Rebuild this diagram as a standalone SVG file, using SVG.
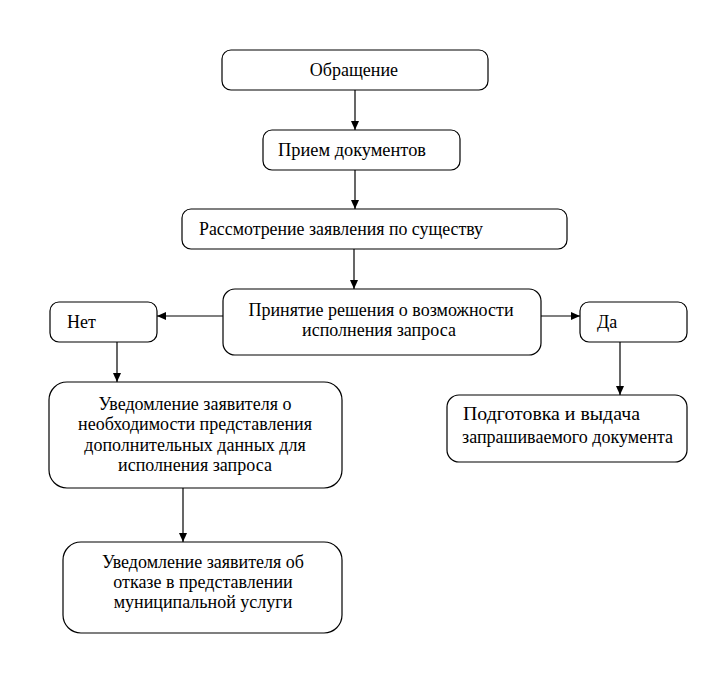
<svg xmlns="http://www.w3.org/2000/svg" width="723" height="684" viewBox="0 0 723 684">
<style>
.box{fill:#fff;stroke:#000;stroke-width:1.2}
.t{font-family:"Liberation Serif","DejaVu Serif",serif;font-size:18px;fill:#000}
.c{text-anchor:middle}
.ln{stroke:#000;stroke-width:1.2;fill:none}
</style>
<defs>
<marker id="ah" markerWidth="10" markerHeight="10" refX="9" refY="5" orient="auto" markerUnits="userSpaceOnUse">
<path d="M0,1 L9,5 L0,9 Z" fill="#000"/>
</marker>
</defs>
<rect width="723" height="684" fill="#fff"/>
<g id="connectors">
<line class="ln" x1="355" y1="90" x2="355" y2="130" marker-end="url(#ah)"/>
<line class="ln" x1="355" y1="170" x2="355" y2="209" marker-end="url(#ah)"/>
<line class="ln" x1="354" y1="249" x2="354" y2="289" marker-end="url(#ah)"/>
<line class="ln" x1="223" y1="316" x2="157" y2="316" marker-end="url(#ah)"/>
<line class="ln" x1="541" y1="316" x2="580" y2="316" marker-end="url(#ah)"/>
<line class="ln" x1="117" y1="342" x2="117" y2="382" marker-end="url(#ah)"/>
<line class="ln" x1="620" y1="342" x2="620" y2="395" marker-end="url(#ah)"/>
<line class="ln" x1="183" y1="488" x2="183" y2="542" marker-end="url(#ah)"/>
</g>
<g id="n1">
<rect class="box" x="222" y="50" width="266" height="40" rx="9"/>
<text class="t c" x="354" y="76">Обращение</text>
</g>
<g id="n2">
<rect class="box" x="263" y="130" width="197" height="40" rx="9"/>
<text class="t" x="278" y="156" textLength="148" lengthAdjust="spacingAndGlyphs">Прием документов</text>
</g>
<g id="n3">
<rect class="box" x="182" y="209" width="385" height="40" rx="9"/>
<text class="t" x="199" y="235" textLength="284" lengthAdjust="spacingAndGlyphs">Рассмотрение заявления по существу</text>
</g>
<g id="n4">
<rect class="box" x="223" y="289" width="318" height="66" rx="12"/>
<text class="t c" x="381" y="316">Принятие решения о возможности</text>
<text class="t c" x="379" y="336">исполнения запроса</text>
</g>
<g id="n5">
<rect class="box" x="50" y="302" width="107" height="40" rx="9"/>
<text class="t" x="67" y="328">Нет</text>
</g>
<g id="n6">
<rect class="box" x="580" y="302" width="107" height="40" rx="9"/>
<text class="t" x="597" y="328">Да</text>
</g>
<g id="n7">
<rect class="box" x="49" y="382" width="293" height="106" rx="18"/>
<text class="t c" x="195" y="410">Уведомление заявителя о</text>
<text class="t c" x="195" y="430">необходимости представления</text>
<text class="t c" x="195" y="451">дополнительных данных для</text>
<text class="t c" x="195" y="471">исполнения запроса</text>
</g>
<g id="n8">
<rect class="box" x="447" y="395" width="240" height="67" rx="12"/>
<text class="t" x="463" y="420" textLength="177" lengthAdjust="spacingAndGlyphs">Подготовка и выдача</text>
<text class="t" x="462" y="443" textLength="211" lengthAdjust="spacingAndGlyphs">запрашиваемого документа</text>
</g>
<g id="n9">
<rect class="box" x="63" y="542" width="279" height="91" rx="18"/>
<text class="t c" x="203" y="568">Уведомление заявителя об</text>
<text class="t c" x="203" y="588">отказе в представлении</text>
<text class="t c" x="203" y="608">муниципальной услуги</text>
</g>
</svg>
